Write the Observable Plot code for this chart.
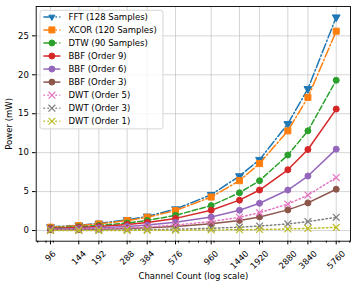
<!DOCTYPE html>
<html><head><meta charset="utf-8">
<script src="https://cdn.jsdelivr.net/npm/d3@7"></script>
<script src="https://cdn.jsdelivr.net/npm/@observablehq/plot@0.6"></script>
<style>
body{margin:0;background:#fff;}
#chart svg{font-family:"DejaVu Sans",sans-serif;}
</style>
</head><body><div id="chart"></div>
<script>
// ---- data ----
const channels = [96, 144, 192, 288, 384, 576, 960, 1440, 1920, 2880, 3840, 5760];
const xTickLabels = ["96", "144", "192", "288", "384", "576", "960", "1440", "1920", "2880", "3840", "5760"];
const minorTicks = [80, 90, 100, 200, 300, 400, 500, 600, 700, 800, 900, 1000, 2000, 3000, 4000, 5000, 6000, 7000];
const yTicks = [0, 5, 10, 15, 20, 25];
const seriesNames = ["FFT (128 Samples)", "XCOR (120 Samples)", "DTW (90 Samples)", "BBF (Order 9)", "BBF (Order 6)", "BBF (Order 3)", "DWT (Order 5)", "DWT (Order 3)", "DWT (Order 1)"];
const fft  = [0.46, 0.68, 0.91, 1.37, 1.82, 2.75, 4.6, 7.0, 9.1, 13.7, 18.2, 27.4];
const xcor = [0.43, 0.64, 0.85, 1.28, 1.7, 2.56, 4.3, 6.4, 8.6, 12.8, 17.1, 25.6];
const dtw  = [0.33, 0.49, 0.65, 0.97, 1.3, 1.95, 3.2, 4.85, 6.4, 9.7, 12.8, 19.3];
const bbf9 = [0.26, 0.39, 0.52, 0.78, 1.04, 1.56, 2.6, 3.9, 5.2, 7.8, 10.4, 15.6];
const bbf6 = [0.17, 0.26, 0.35, 0.52, 0.7, 1.05, 1.74, 2.6, 3.5, 5.2, 7.0, 10.45];
const bbf3 = [0.09, 0.13, 0.18, 0.27, 0.35, 0.53, 0.88, 1.3, 1.75, 2.65, 3.55, 5.3];
const dwt5 = [0.11, 0.17, 0.23, 0.34, 0.46, 0.7, 1.15, 1.7, 2.3, 3.4, 4.55, 6.8];
const dwt3 = [0.03, 0.043, 0.057, 0.085, 0.11, 0.17, 0.29, 0.43, 0.57, 0.85, 1.15, 1.7];
const dwt1 = [0.007, 0.01, 0.013, 0.02, 0.027, 0.04, 0.07, 0.1, 0.13, 0.2, 0.27, 0.4];
const seriesValues = [fft, xcor, dtw, bbf9, bbf6, bbf3, dwt5, dwt3, dwt1];

// ---- styles ----
const DASHDOT = "9.6,2.4,1.5,2.4", DASHED = "5.55,2.4", DOTTED = "1.5,2.5";
const styles = [
  {color: "#1f77b4", dash: DASHDOT, symbol: "triangle", r: 2.9, rotate: 180},
  {color: "#ff7f0e", dash: DASHDOT, symbol: "square", r: 3.4, rotate: 0},
  {color: "#2ca02c", dash: DASHED, symbol: "circle", r: 3, rotate: 0},
  {color: "#d62728", dash: null, symbol: "circle", r: 3, rotate: 0},
  {color: "#9467bd", dash: null, symbol: "circle", r: 3, rotate: 0},
  {color: "#8c564b", dash: null, symbol: "circle", r: 3, rotate: 0},
  {color: "#e377c2", dash: DOTTED, symbol: "times", r: 3.2, rotate: 0},
  {color: "#7f7f7f", dash: DOTTED, symbol: "times", r: 3.2, rotate: 0},
  {color: "#bcbd22", dash: DOTTED, symbol: "times", r: 3.2, rotate: 0}
];

const W = 357, H = 288;
const M = {left: 35.7, right: 7, top: 6, bottom: 47.3};
const FS = 8.5;

const series = seriesNames.map((name, i) => ({
  name, style: styles[i],
  data: channels.map((c, j) => ({x: c, y: seriesValues[i][j]}))
}));
const tickData = channels.map((c, i) => ({x: c, label: xTickLabels[i]}));

const symbolTypes = {triangle: d3.symbolTriangle2, square: d3.symbolSquare, circle: d3.symbolCircle, times: d3.symbolTimes};

function legendMark() {
  const g = d3.create("svg:g");
  const bx = M.left + 4.3, by = M.top + 4.3;
  g.append("rect").attr("x", bx).attr("y", by).attr("width", 123).attr("height", 118.6)
    .attr("rx", 2.5).attr("fill", "white").attr("fill-opacity", 0.8)
    .attr("stroke", "#cccccc").attr("stroke-width", 0.8);
  series.forEach((s, i) => {
    const cy = by + 6.6 + 13.04 * i;
    const st = s.style;
    g.append("line").attr("x1", bx + 3.4).attr("x2", bx + 20.4).attr("y1", cy).attr("y2", cy)
      .attr("stroke", st.color).attr("stroke-width", 1.5)
      .attr("stroke-dasharray", st.dash);
    const path = d3.symbol(symbolTypes[st.symbol], Math.PI * st.r * st.r)();
    const p = g.append("path").attr("d", path)
      .attr("transform", `translate(${bx + 11.9},${cy}) rotate(${st.rotate})`);
    if (st.symbol === "times") p.attr("fill", "none").attr("stroke", st.color).attr("stroke-width", 1.2);
    else p.attr("fill", st.color).attr("stroke", st.color).attr("stroke-width", 1);
    g.append("text").attr("x", bx + 28.5).attr("y", cy).attr("dy", "0.35em")
      .attr("text-anchor", "start").style("text-anchor", "start")
      .attr("font-size", FS).attr("fill", "#000").text(s.name);
  });
  return g.node();
}

const marks = [
  Plot.gridX(channels, {stroke: "#b0b0b0", strokeOpacity: 0.6, strokeWidth: 0.9}),
  Plot.gridY(yTicks, {stroke: "#b0b0b0", strokeOpacity: 0.6, strokeWidth: 0.9})
];
series.forEach(s => {
  const st = s.style;
  marks.push(Plot.line(s.data, {x: "x", y: "y", stroke: st.color, strokeWidth: 1.5, strokeDasharray: st.dash || undefined}));
  if (st.symbol === "times") {
    marks.push(Plot.dot(s.data, {x: "x", y: "y", symbol: "times", r: st.r, stroke: st.color, strokeWidth: 1.2}));
  } else {
    marks.push(Plot.dot(s.data, {x: "x", y: "y", symbol: st.symbol, r: st.r, fill: st.color, stroke: st.color, strokeWidth: 1, rotate: st.rotate}));
  }
});
marks.push(
  Plot.frame({stroke: "#000", strokeWidth: 0.9}),
  Plot.axisX({ticks: channels, tickFormat: () => "", tickSize: 3.7, label: null}),
  Plot.axisX({ticks: minorTicks, tickFormat: () => "", tickSize: 2, label: null}),
  Plot.axisY({ticks: yTicks, tickSize: 3.7, tickPadding: 3.7, fontSize: FS, label: null})
);
[2, 3, 4].forEach(n => {
  marks.push(Plot.text(tickData.filter(d => d.label.length === n), {
    x: "x", text: "label", frameAnchor: "bottom", dy: 11 + 1.9 * n,
    rotate: -45, textAnchor: "middle", lineAnchor: "middle", fontSize: FS, fill: "#000"
  }));
});
marks.push(
  Plot.text(["Channel Count (log scale)"], {text: d => d, frameAnchor: "bottom", dy: 35.3, textAnchor: "middle", lineAnchor: "middle", fontSize: FS, fill: "#000"}),
  Plot.text(["Power (mW)"], {text: d => d, frameAnchor: "left", dx: -27.4, rotate: -90, textAnchor: "middle", lineAnchor: "middle", fontSize: FS, fill: "#000"}),
  legendMark
);

const chart = Plot.plot({
  width: W, height: H,
  marginLeft: M.left, marginRight: M.right, marginTop: M.top, marginBottom: M.bottom,
  style: {fontFamily: "DejaVu Sans", fontSize: FS + "px", background: "white", color: "#000"},
  x: {type: "log", domain: [96 / Math.exp(0.2047), 5760 * Math.exp(0.2047)], axis: null, label: null},
  y: {domain: [-1.37, 28.77], axis: null, label: null},
  marks
});
document.getElementById("chart").append(chart);
</script>
</body></html>
